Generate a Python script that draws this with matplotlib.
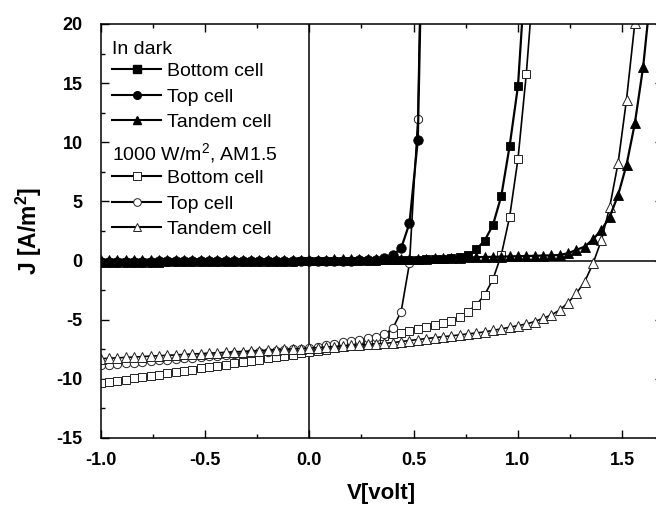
import matplotlib
matplotlib.use("Agg")
import matplotlib.pyplot as plt
from matplotlib.lines import Line2D

plt.rcParams.update({
    "font.family": ["Liberation Sans", "DejaVu Sans"],
    "mathtext.fontset": "custom",
    "mathtext.rm": "Liberation Sans",
    "mathtext.it": "Liberation Sans:italic",
    "mathtext.bf": "Liberation Sans:bold",
    "axes.linewidth": 1.1,
    "xtick.direction": "in",
    "ytick.direction": "in",
    "xtick.top": True,
    "ytick.right": True,
})

# voltage sweep (V)
V = [-1.00, -0.96, -0.92, -0.88, -0.84, -0.80, -0.76, -0.72, -0.68, -0.64,
     -0.60, -0.56, -0.52, -0.48, -0.44, -0.40, -0.36, -0.32, -0.28, -0.24,
     -0.20, -0.16, -0.12, -0.08, -0.04, 0.00, 0.04, 0.08, 0.12, 0.16,
     0.20, 0.24, 0.28, 0.32, 0.36, 0.40, 0.44, 0.48, 0.52, 0.56,
     0.60, 0.64, 0.68, 0.72, 0.76, 0.80, 0.84, 0.88, 0.92, 0.96,
     1.00, 1.04, 1.08, 1.12, 1.16, 1.20, 1.24, 1.28, 1.32, 1.36,
     1.40, 1.44, 1.48, 1.52, 1.56, 1.60, 1.64]

# in dark (A/m2)
dark_bottom = [-0.20, -0.20, -0.19, -0.19, -0.18, -0.18, -0.17, -0.17, -0.16, -0.16,
               -0.15, -0.15, -0.14, -0.14, -0.13, -0.13, -0.12, -0.12, -0.11, -0.11,
               -0.10, -0.10, -0.09, -0.09, -0.08, -0.08,
               -0.07, -0.06, -0.05, -0.04, -0.03, -0.02, -0.01, 0.00, 0.01, 0.02,
               0.04, 0.06, 0.08, 0.10, 0.13, 0.17, 0.23, 0.33, 0.47, 0.95,
               1.68, 3.00, 5.46, 9.69, 14.76, 25.7]
dark_top = [-0.10, -0.10, -0.10, -0.09, -0.09, -0.09, -0.09, -0.08, -0.08, -0.08,
            -0.08, -0.07, -0.07, -0.07, -0.07, -0.06, -0.06, -0.06, -0.06, -0.05,
            -0.05, -0.05, -0.05, -0.04, -0.04, -0.04,
            -0.03, -0.03, -0.02, -0.01, 0.00, 0.01, 0.03, 0.08, 0.19, 0.47,
            1.04, 3.15, 10.2, 45.0]
dark_tandem = [0.08, 0.08, 0.08, 0.08, 0.08, 0.08, 0.08, 0.08, 0.08, 0.08,
               0.08, 0.08, 0.08, 0.08, 0.08, 0.08, 0.08, 0.08, 0.08, 0.08,
               0.08, 0.08, 0.08, 0.08, 0.08, 0.08,
               0.08, 0.08, 0.09, 0.09, 0.09, 0.10, 0.10, 0.11, 0.11, 0.12,
               0.13, 0.14, 0.15, 0.16, 0.18, 0.20, 0.22, 0.24, 0.26, 0.28,
               0.30, 0.31, 0.33, 0.35, 0.37, 0.38, 0.40, 0.42, 0.44, 0.47,
               0.62, 0.90, 1.18, 1.80, 2.59, 3.71, 5.55, 8.08, 11.6, 16.4, 23.3]

# 1000 W/m2, AM1.5
light_bottom = [-10.37, -10.27, -10.16, -10.06, -9.95, -9.85, -9.74, -9.64, -9.53, -9.43,
                -9.32, -9.22, -9.11, -9.01, -8.90, -8.80, -8.69, -8.59, -8.48, -8.38,
                -8.27, -8.17, -8.06, -7.96, -7.85, -7.75,
                -7.64, -7.53, -7.42, -7.30, -7.18, -7.02, -6.85, -6.62, -6.40, -6.22,
                -6.10, -5.95, -5.81, -5.62, -5.48, -5.30, -5.11, -4.80, -4.32, -3.75,
                -2.91, -1.58, 0.47, 3.70, 8.60, 15.8, 25.0]
light_top = [-8.85, -8.79, -8.73, -8.68, -8.62, -8.56, -8.50, -8.44, -8.39, -8.33,
             -8.27, -8.21, -8.15, -8.10, -8.04, -7.98, -7.92, -7.86, -7.81, -7.75,
             -7.69, -7.63, -7.57, -7.52, -7.46, -7.40,
             -7.28, -7.16, -7.04, -6.92, -6.80, -6.68, -6.56, -6.43, -6.25, -5.73,
             -4.32, -0.23, 12.0, 50.0]
light_tandem = [-8.30, -8.26, -8.23, -8.19, -8.16, -8.12, -8.08, -8.05, -8.01, -7.98,
                -7.94, -7.90, -7.87, -7.83, -7.80, -7.76, -7.72, -7.69, -7.65, -7.62,
                -7.58, -7.54, -7.51, -7.47, -7.44, -7.40,
                -7.36, -7.31, -7.27, -7.22, -7.18, -7.13, -7.09, -7.04, -7.00, -6.94,
                -6.85, -6.76, -6.68, -6.60, -6.52, -6.44, -6.37, -6.29, -6.20, -6.13,
                -6.03, -5.90, -5.78, -5.64, -5.50, -5.36, -5.16, -4.88, -4.60, -4.18,
                -3.56, -2.77, -1.78, -0.23, 1.74, 4.56, 8.28, 13.6, 20.1, 28.0]

LABELS = ["Bottom cell", "Top cell", "Tandem cell"]
DARK_MARKERS = [("s", 6.0), ("o", 6.8), ("^", 7.2)]
LIGHT_MARKERS = [("s", 5.5), ("o", 6.0), ("^", 6.5)]

fig = plt.figure(figsize=(6.56, 5.11), dpi=100)
ax = fig.add_axes([0.1534, 0.1429, 0.8573, 0.8102])

ax.axhline(0, color="black", linewidth=1.1, zorder=1)
ax.axvline(0, color="black", linewidth=1.1, zorder=1)

dark_handles = []
for J, label, (m, ms) in zip([dark_bottom, dark_top, dark_tandem], LABELS, DARK_MARKERS):
    ax.plot(V[:len(J)], J, color="black", linewidth=1.6, marker=m, markersize=ms,
            markerfacecolor="black", markeredgecolor="black", markeredgewidth=0.6, zorder=3)
    dark_handles.append(Line2D([], [], color="black", linewidth=1.5, marker=m,
                               markersize=5.5, markerfacecolor="black",
                               markeredgecolor="black", label=label))

light_handles = []
for J, label, (m, ms) in zip([light_bottom, light_top, light_tandem], LABELS, LIGHT_MARKERS):
    ax.plot(V[:len(J)], J, color="black", linewidth=1.2, marker=m, markersize=ms,
            markerfacecolor="white", markeredgecolor="#222222", markeredgewidth=0.7, zorder=2)
    light_handles.append(Line2D([], [], color="black", linewidth=1.5, marker=m,
                                markersize=5.5, markerfacecolor="white",
                                markeredgecolor="#222222", markeredgewidth=0.7, label=label))

ax.set_xlim(-1.0, 1.695)
ax.set_ylim(-15, 20)
ax.set_xticks([-1.0, -0.5, 0.0, 0.5, 1.0, 1.5])
ax.set_xticks([-0.75, -0.25, 0.25, 0.75, 1.25], minor=True)
ax.set_yticks([-15, -10, -5, 0, 5, 10, 15, 20])
ax.set_yticks([-12.5, -7.5, -2.5, 2.5, 7.5, 12.5, 17.5], minor=True)
ax.set_xticklabels(["-1.0", "-0.5", "0.0", "0.5", "1.0", "1.5"])
ax.set_yticklabels(["-15", "-10", "-5", "0", "5", "10", "15", "20"])
ax.tick_params(which="major", length=6, width=1.0, labelsize=13, pad=10)
ax.tick_params(which="minor", length=3, width=1.0)
ax.tick_params(axis="y", which="major", pad=13)
for lbl in ax.get_xticklabels() + ax.get_yticklabels():
    lbl.set_fontweight("bold")

ax.set_xlabel("V[volt]", fontsize=16, fontweight="bold", labelpad=10)
ax.set_ylabel(r"J [A/m$^{\mathbf{2}}$]", fontsize=16.5, fontweight="bold", labelpad=9)

leg_kw = dict(loc="upper left", frameon=False, fontsize=14, title_fontsize=14,
              alignment="left", borderpad=0, borderaxespad=0, handlelength=2.5,
              handletextpad=0.3, labelspacing=0.4, numpoints=1)
leg1 = ax.legend(handles=dark_handles, title="In dark",
                 bbox_to_anchor=(0.021, 0.958), **leg_kw)
ax.add_artist(leg1)
leg2 = ax.legend(handles=light_handles, title=r"1000 W/m$^2$, AM1.5",
                 bbox_to_anchor=(0.021, 0.716), **leg_kw)
for leg in (leg1, leg2):
    leg._legend_box.sep = 3

fig.savefig("out.png", dpi=100)
